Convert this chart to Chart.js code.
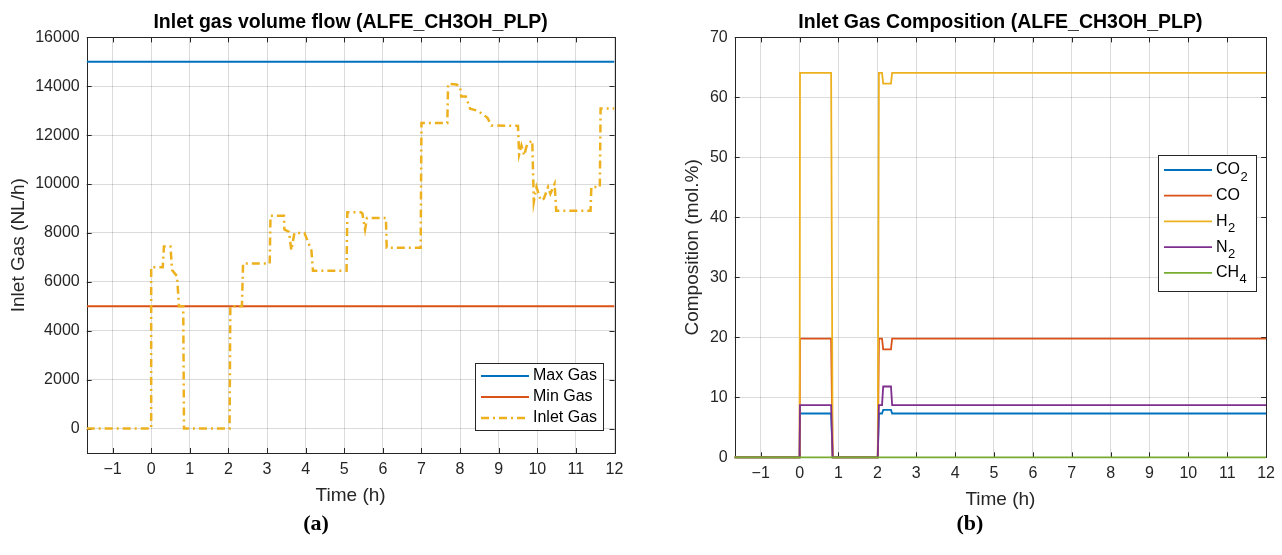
<!DOCTYPE html>
<html>
<head>
<meta charset="utf-8">
<script src="https://cdn.jsdelivr.net/npm/chart.js@4.4.0/dist/chart.umd.min.js"></script>
<style>
  body { margin: 0; background: #fff; width: 1282px; height: 555px; position: relative; overflow: hidden; }
  .caja { position: absolute; top: 0; width: 641px; height: 515px; }
  .pie { position: absolute; top: 512px; width: 60px; text-align: center; line-height: 22px;
         font-family: "Liberation Serif", serif; font-weight: bold; font-size: 22px; color: #000; }
</style>
</head>
<body>
<div class="caja" style="left:0"><canvas id="graficoFlujo" width="641" height="515"></canvas></div>
<div class="caja" style="left:641px"><canvas id="graficoComp" width="641" height="515"></canvas></div>
<div class="pie" style="left:286px">(a)</div>
<div class="pie" style="left:940px">(b)</div>
<script>
// eje de tiempo comun
const ticksTiempo = [-1, 0, 1, 2, 3, 4, 5, 6, 7, 8, 9, 10, 11, 12];

// datos grafico (a): flujo de gas
const tiempoLimites = [-1.67, 12];
const gasMaximo = [15000, 15000];
const gasMinimo = [5000, 5000];
const tiempoFlujo = [-1.67, 0, 0, 0.30, 0.33, 0.50, 0.54, 0.67, 0.72, 0.83, 0.85, 2.03, 2.05, 2.35, 2.38,
  3.07, 3.09, 3.44, 3.45, 3.57, 3.63, 3.71, 3.97, 4.15, 4.19, 5.06, 5.08, 5.43, 5.47, 5.54, 5.59, 6.08, 6.10,
  6.98, 7.00, 7.67, 7.69, 7.91, 8.00, 8.03, 8.15, 8.26, 8.45, 8.58, 8.71, 8.81, 9.50, 9.53, 9.59, 9.66, 9.74,
  9.87, 9.91, 9.98, 10.09, 10.17, 10.28, 10.34, 10.45, 10.49, 11.38, 11.40, 11.62, 11.64, 12];
const flujoEntrada = [0, 0, 6600, 6600, 7450, 7450, 6480, 6230, 5000, 5000, 0, 0, 5000, 5000, 6750,
  6750, 8700, 8700, 8140, 8050, 7290, 8000, 8000, 7290, 6450, 6450, 8850, 8850, 8800, 8140, 8610, 8610, 7400,
  7400, 12500, 12500, 14100, 14070, 13990, 13580, 13580, 13080, 13000, 12870, 12710, 12400, 12380, 11210, 11580, 11170, 11650,
  11780, 9270, 9880, 9330, 9400, 9880, 9600, 10010, 8910, 8910, 9880, 9880, 13090, 13090];
const ticksFlujo = [0, 2000, 4000, 6000, 8000, 10000, 12000, 14000, 16000];

// datos grafico (b): composicion
const tiempoComp = [-1.67, 0, 0.01, 0.81, 0.85, 2.01, 2.04, 2.12, 2.15, 2.35, 2.38, 12];
const co2 = [0, 0, 7.3, 7.3, 0, 0, 7.3, 7.3, 7.9, 7.9, 7.3, 7.3];
const co = [0, 0, 19.8, 19.8, 0, 0, 19.8, 19.8, 18.0, 18.0, 19.8, 19.8];
const h2 = [0, 0, 64.1, 64.1, 0, 0, 64.1, 64.1, 62.3, 62.3, 64.1, 64.1];
const n2 = [0, 0, 8.7, 8.7, 0, 0, 8.7, 8.7, 11.8, 11.8, 8.7, 8.7];
const ch4 = [0, 0, 0, 0, 0, 0, 0, 0, 0, 0, 0, 0];
const ticksComp = [0, 10, 20, 30, 40, 50, 60, 70];

Chart.defaults.font.family = '"Liberation Sans", Arial, sans-serif';
Chart.defaults.color = '#262626';

function puntos(xs, ys) {
  return xs.map((x, i) => ({ x: x, y: ys[i] }));
}

// marcas hacia dentro y caja de ejes (estilo matlab)
const marcas = {
  id: 'marcas',
  beforeDatasetsDraw(chart) {
    const ctx = chart.ctx;
    const a = chart.chartArea;
    const sx = chart.scales.x, sy = chart.scales.y;
    ctx.save();
    ctx.strokeStyle = '#262626';
    ctx.lineWidth = 1;
    ctx.beginPath();
    for (let t of sx.ticks) {
      let px = Math.round(sx.getPixelForValue(t.value)) + 0.5;
      ctx.moveTo(px, a.bottom); ctx.lineTo(px, a.bottom - 5);
      ctx.moveTo(px, a.top); ctx.lineTo(px, a.top + 5);
    }
    for (let t of sy.ticks) {
      let py = Math.round(sy.getPixelForValue(t.value)) + 0.5;
      ctx.moveTo(a.left, py); ctx.lineTo(a.left + 5, py);
      ctx.moveTo(a.right, py); ctx.lineTo(a.right - 5, py);
    }
    ctx.stroke();
    ctx.strokeRect(Math.round(a.left) + 0.5, Math.round(a.top) + 0.5,
      Math.round(a.right) - Math.round(a.left), Math.round(a.bottom) - Math.round(a.top));
    ctx.restore();
  }
};

// leyenda con caja y subindices
const leyendaCaja = {
  id: 'leyendaCaja',
  afterDraw(chart, args, op) {
    const ctx = chart.ctx;
    ctx.save();
    ctx.fillStyle = '#fff';
    ctx.fillRect(op.x, op.y, op.w, op.h);
    ctx.strokeStyle = '#262626';
    ctx.lineWidth = 1;
    ctx.strokeRect(op.x + 0.5, op.y + 0.5, op.w, op.h);
    chart.data.datasets.forEach((ds, i) => {
      let yy = op.fila + i * op.paso;
      ctx.strokeStyle = ds.borderColor;
      ctx.lineWidth = ds.borderWidth;
      ctx.setLineDash(ds.borderDash || []);
      ctx.beginPath();
      ctx.moveTo(op.x + 6, yy);
      ctx.lineTo(op.x + 54, yy);
      ctx.stroke();
      ctx.setLineDash([]);
      let m = ds.label.match(/^(.*?)(\d*)$/);
      ctx.fillStyle = '#000';
      ctx.textBaseline = 'middle';
      ctx.font = '16px "Liberation Sans", Arial';
      ctx.fillText(m[1], op.x + 58, yy);
      if (m[2]) {
        let w = ctx.measureText(m[1]).width;
        ctx.font = '13px "Liberation Sans", Arial';
        ctx.fillText(m[2], op.x + 58 + w + 0.5, yy + 7);
      }
    });
    ctx.restore();
  }
};

function ejeX(altura, padTitulo) {
  return {
    type: 'linear',
    min: -1.67,
    max: 12,
    afterBuildTicks: s => { s.ticks = ticksTiempo.map(v => ({ value: v })); },
    afterFit: s => { s.height = altura; },
    grid: { color: 'rgba(0,0,0,0.14)', drawTicks: false },
    border: { display: false },
    ticks: {
      padding: 7, autoSkip: false, maxRotation: 0, font: { size: 16 },
      callback: v => v < 0 ? '\u2212' + Math.abs(v) : '' + v
    },
    title: { display: true, text: 'Time (h)', font: { size: 19 }, padding: { top: 0, bottom: padTitulo } }
  };
}

function ejeY(min, max, lista, ancho, texto, padTitulo) {
  return {
    type: 'linear',
    min: min,
    max: max,
    afterBuildTicks: s => { s.ticks = lista.map(v => ({ value: v })); },
    afterFit: s => { s.width = ancho; },
    grid: { color: 'rgba(0,0,0,0.14)', drawTicks: false },
    border: { display: false },
    ticks: { padding: 7, font: { size: 16 }, callback: v => '' + v },
    title: { display: true, text: texto, font: { size: 19 }, padding: { top: padTitulo, bottom: 0 } }
  };
}

function titulo(texto) {
  return {
    display: true, text: texto, fullSize: false, color: '#000',
    font: { size: 19.5, weight: 'bold' }, padding: { top: 11, bottom: 3 }
  };
}

// grafico (a)
new Chart(document.getElementById('graficoFlujo'), {
  type: 'line',
  data: {
    datasets: [
      { label: 'Max Gas', data: puntos(tiempoLimites, gasMaximo), borderColor: '#0072BD', borderWidth: 2 },
      { label: 'Min Gas', data: puntos(tiempoLimites, gasMinimo), borderColor: '#D95319', borderWidth: 2 },
      { label: 'Inlet Gas', data: puntos(tiempoFlujo, flujoEntrada), borderColor: '#EDB120', borderWidth: 2.5,
        borderDash: [8, 4, 2, 4], order: -1 }
    ]
  },
  options: {
    responsive: false,
    animation: false,
    layout: { padding: { left: 0, right: 26.5, top: 0, bottom: 0 } },
    elements: { point: { radius: 0 }, line: { tension: 0 } },
    scales: {
      x: ejeX(62, 8),
      y: ejeY(-1000, 16000, ticksFlujo, 86.7, 'Inlet Gas (NL/h)', 7)
    },
    plugins: {
      legend: { display: false },
      tooltip: { enabled: false },
      title: titulo('Inlet gas volume flow (ALFE_CH3OH_PLP)'),
      leyendaCaja: { x: 475, y: 363, w: 128, h: 67, fila: 376, paso: 21 }
    }
  },
  plugins: [marcas, leyendaCaja]
});

// grafico (b)
let especies = [
  { label: 'CO2', valores: co2, color: '#0072BD' },
  { label: 'CO', valores: co, color: '#D95319' },
  { label: 'H2', valores: h2, color: '#EDB120' },
  { label: 'N2', valores: n2, color: '#7E2F8E' },
  { label: 'CH4', valores: ch4, color: '#77AC30' }
];
new Chart(document.getElementById('graficoComp'), {
  type: 'line',
  data: {
    datasets: especies.map((e, i) => ({
      label: e.label, data: puntos(tiempoComp, e.valores), borderColor: e.color,
      borderWidth: 1.8, order: especies.length - i, clip: 3
    }))
  },
  options: {
    responsive: false,
    animation: false,
    layout: { padding: { left: 0, right: 15, top: 0, bottom: 0 } },
    elements: { point: { radius: 0 }, line: { tension: 0 } },
    scales: {
      x: ejeX(57.7, 4),
      y: ejeY(0, 70, ticksComp, 93.7, 'Composition (mol.%)', 40.6)
    },
    plugins: {
      legend: { display: false },
      tooltip: { enabled: false },
      title: titulo('Inlet Gas Composition (ALFE_CH3OH_PLP)'),
      leyendaCaja: { x: 517, y: 155, w: 98, h: 136, fila: 170, paso: 25.7 }
    }
  },
  plugins: [marcas, leyendaCaja]
});
</script>
</body>
</html>
